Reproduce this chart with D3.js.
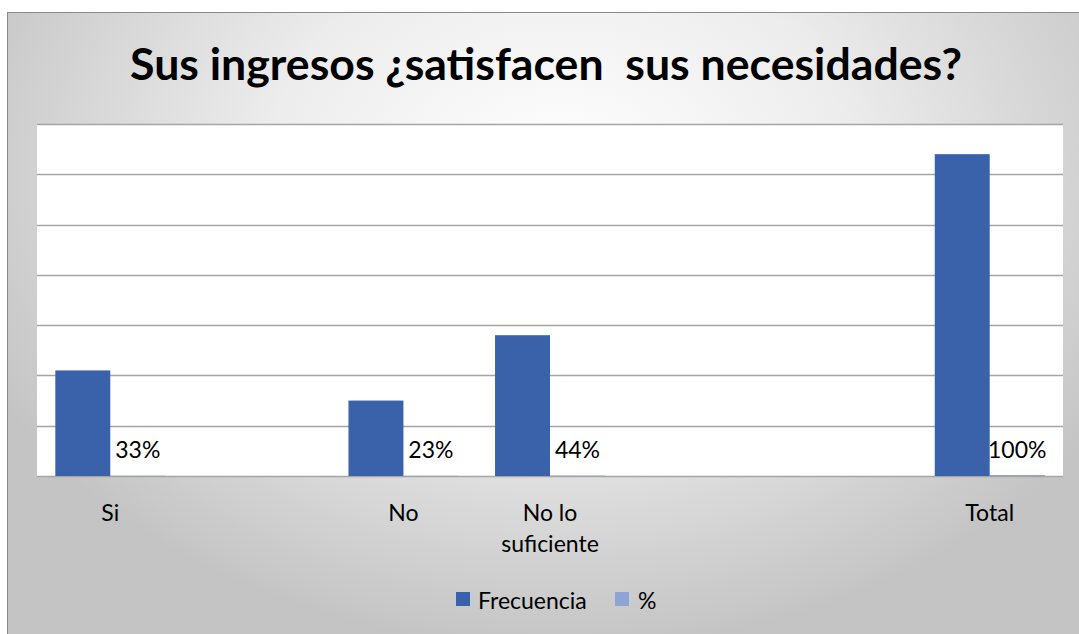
<!DOCTYPE html>
<html>
<head>
<meta charset="utf-8">
<script src="https://cdn.jsdelivr.net/npm/d3@7"></script>
<style>
  html, body { margin: 0; padding: 0; background: #ffffff; }
  svg { display: block; }
  text { font-family: Lato, "Open Sans", sans-serif; }
</style>
</head>
<body>
<svg id="chart" width="1079" height="634"></svg>
<script>
// ---- data ----
const categories = ["Si", "", "No", "No lo suficiente", "", "", "Total"];
const frecuencia = [21, null, 15, 28, null, null, 64];
const porcentaje = [0.33, null, 0.23, 0.44, null, null, 1.00];
const seriesNames = ["Frecuencia", "%"];
const yTicks = [0, 10, 20, 30, 40, 50, 60, 70];
const title = "Sus ingresos ¿satisfacen\u00A0 sus necesidades?";

const colors = { "Frecuencia": "#3A62AB", "%": "#8FA3D5" };

// ---- layout ----
const W = 1079, H = 634;
const plot = { left: 37, right: 1063, top: 124, bottom: 476 };
const labelSize = 23;

const svg = d3.select("#chart");
const defs = svg.append("defs");
const grad = defs.append("radialGradient")
  .attr("id", "bg").attr("gradientUnits", "userSpaceOnUse")
  .attr("cx", 560).attr("cy", 170).attr("r", 640)
  .attr("gradientTransform", "translate(560,170) scale(1,0.75) translate(-560,-170)");
grad.append("stop").attr("offset", "0%").attr("stop-color", "#ffffff");
grad.append("stop").attr("offset", "45%").attr("stop-color", "#ededed");
grad.append("stop").attr("offset", "100%").attr("stop-color", "#c4c4c4");

// frame background
svg.append("rect").attr("x", 7.5).attr("y", 12.5).attr("width", W).attr("height", H)
  .attr("fill", "url(#bg)").attr("stroke", "#8a8a8a").attr("stroke-width", 1);

// plot area
svg.append("rect").attr("x", plot.left).attr("y", plot.top)
  .attr("width", plot.right - plot.left).attr("height", plot.bottom - plot.top)
  .attr("fill", "#ffffff");

// scales
const x0 = d3.scaleBand().domain(d3.range(categories.length))
  .range([plot.left, plot.right]).padding(0);
const bw = x0.bandwidth();
const gap = bw * 0.125;
const x1 = d3.scaleBand().domain(seriesNames).range([gap, bw - gap]).padding(0);
const y = d3.scaleLinear().domain([0, 70]).range([plot.bottom, plot.top]);
// % series drawn as near-flat bars on the baseline (as in the source chart)
const yPct = d3.scaleLinear().domain([0, 350]).range([plot.bottom, plot.top]);

// gridlines
svg.append("g").selectAll("line").data(yTicks).join("line")
  .attr("x1", plot.left).attr("x2", plot.right)
  .attr("y1", d => Math.round(y(d)) + 0.5).attr("y2", d => Math.round(y(d)) + 0.5)
  .attr("stroke", "#a5a5a5").attr("stroke-width", 1.3);

// Frecuencia bars
const idx = d3.range(categories.length);
svg.append("g").selectAll("rect").data(idx.filter(i => frecuencia[i] != null)).join("rect")
  .attr("x", i => x0(i) + x1("Frecuencia"))
  .attr("y", i => y(frecuencia[i]))
  .attr("width", x1.bandwidth())
  .attr("height", i => y(0) - y(frecuencia[i]))
  .attr("fill", colors["Frecuencia"]);

// % bars (tiny)
svg.append("g").selectAll("rect").data(idx.filter(i => porcentaje[i] != null)).join("rect")
  .attr("x", i => x0(i) + x1("%"))
  .attr("y", i => yPct(porcentaje[i]))
  .attr("width", x1.bandwidth())
  .attr("height", i => yPct(0) - yPct(porcentaje[i]))
  .attr("fill", colors["%"]);

// % data labels
svg.append("g").selectAll("text").data(idx.filter(i => porcentaje[i] != null)).join("text")
  .attr("x", i => x0(i) + x1("%") + x1.bandwidth() / 2)
  .attr("y", 458)
  .attr("text-anchor", "middle")
  .attr("font-size", labelSize)
  .attr("fill", "#000")
  .text(i => d3.format(".0%")(porcentaje[i]));

// category labels
const catG = svg.append("g");
categories.forEach((c, i) => {
  if (!c) return;
  const cx = x0(i) + bw / 2;
  const lines = c === "No lo suficiente" ? ["No lo", "suficiente"] : [c];
  const t = catG.append("text").attr("text-anchor", "middle").attr("font-size", labelSize).attr("fill", "#000");
  lines.forEach((ln, k) => {
    t.append("tspan").attr("x", cx).attr("y", 521 + k * 31).text(ln);
  });
});

// title
const tt = svg.append("text").attr("x", 546).attr("y", 80)
  .attr("text-anchor", "middle").attr("font-weight", "bold")
  .attr("font-size", 41).attr("fill", "#000").text(title);
const tw = tt.node().getComputedTextLength();
const targetW = 832;
tt.attr("font-size", 41 * targetW / tw);

// legend
const leg = svg.append("g");
const legItems = [
  { name: "Frecuencia", sx: 456, tx: 478 },
  { name: "%", sx: 615, tx: 638 }
];
legItems.forEach(d => {
  leg.append("rect").attr("x", d.sx).attr("y", 592).attr("width", 14).attr("height", 14)
    .attr("fill", colors[d.name]);
  leg.append("text").attr("x", d.tx).attr("y", 609).attr("font-size", labelSize).attr("fill", "#000").text(d.name);
});
</script>
</body>
</html>
